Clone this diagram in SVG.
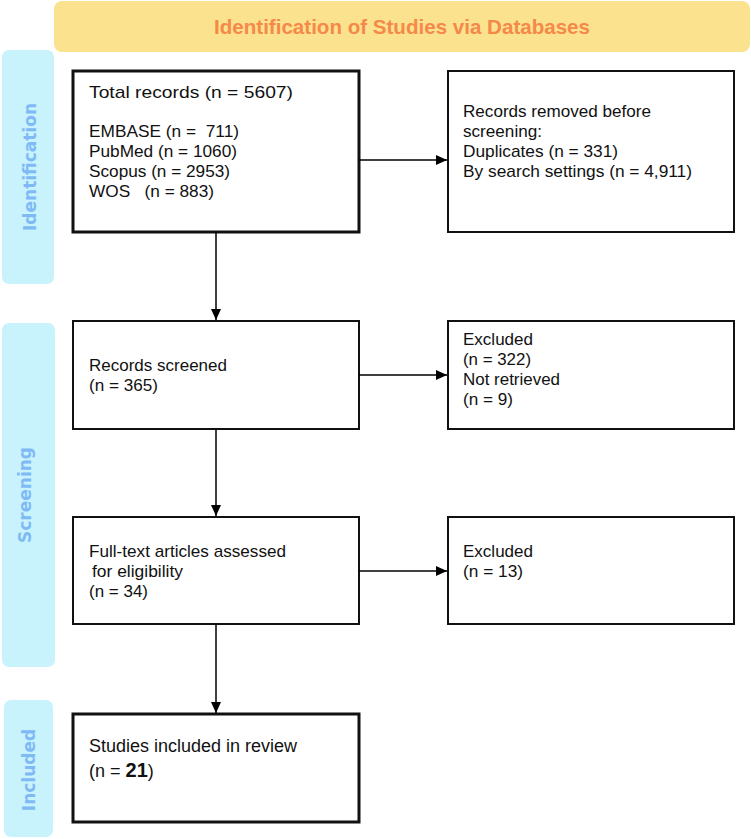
<svg xmlns="http://www.w3.org/2000/svg" width="751" height="839" viewBox="0 0 751 839">
<defs>
<marker id="ah" markerWidth="12" markerHeight="12" refX="11" refY="6" orient="auto" markerUnits="userSpaceOnUse"><path d="M0,1 L11,6 L0,11 z" fill="#000"/></marker>
<style>
.t{font-family:"Liberation Sans",Arial,sans-serif;font-size:17px;fill:#111}
.a{font-family:"Liberation Sans",Arial,sans-serif;font-size:18px;fill:#111}
.bar{fill:#c8f3fd}
.bl{font-family:"DejaVu Sans",sans-serif;font-weight:bold;font-size:17px;fill:#7fbaf5}
.box{fill:#fff;stroke:#111;stroke-width:2}
.thick{stroke-width:3}
.c{stroke:#000;stroke-width:1.5;fill:none;marker-end:url(#ah)}
</style>
</defs>
<g id="header"><rect x="54" y="1" width="696" height="51" rx="8" fill="#fbe28e"/>
<text x="214" y="34" textLength="376" lengthAdjust="spacingAndGlyphs" font-family="Liberation Sans,Arial,sans-serif" font-weight="bold" font-size="21" fill="#f5894a">Identification of Studies via Databases</text></g>
<g id="bar-identification"><rect class="bar" x="2" y="50" width="52" height="234" rx="7"/><text class="bl" transform="translate(36,167) rotate(-90)" text-anchor="middle">Identification</text></g>
<g id="bar-screening"><rect class="bar" x="2" y="323" width="53" height="344" rx="7"/><text class="bl" transform="translate(31,495) rotate(-90)" text-anchor="middle">Screening</text></g>
<g id="bar-included"><rect class="bar" x="4" y="700" width="49" height="137" rx="7"/><text class="bl" transform="translate(35,770) rotate(-90)" text-anchor="middle">Included</text></g>
<g id="total"><rect class="box thick" x="73" y="71" width="286" height="161"/>
<text class="t" x="89" y="98" font-size="19" textLength="204" lengthAdjust="spacingAndGlyphs">Total records (n = 5607)</text>
<text class="t" x="89" y="137" textLength="150" lengthAdjust="spacingAndGlyphs" xml:space="preserve">EMBASE (n =  711)</text>
<text class="t" x="89" y="157" textLength="148" lengthAdjust="spacingAndGlyphs">PubMed (n = 1060)</text>
<text class="t" x="89" y="177" textLength="141" lengthAdjust="spacingAndGlyphs">Scopus (n = 2953)</text>
<text class="t" x="89" y="197" textLength="125" lengthAdjust="spacingAndGlyphs" xml:space="preserve">WOS   (n = 883)</text></g>
<g id="removed"><rect class="box" x="448" y="71" width="286" height="161"/>
<text class="t" x="463" y="117" textLength="188" lengthAdjust="spacingAndGlyphs">Records removed before</text>
<text class="t" x="463" y="137" textLength="79" lengthAdjust="spacingAndGlyphs">screening:</text>
<text class="t" x="463" y="157" textLength="155" lengthAdjust="spacingAndGlyphs">Duplicates (n = 331)</text>
<text class="t" x="463" y="177" textLength="229" lengthAdjust="spacingAndGlyphs">By search settings (n = 4,911)</text></g>
<g id="screened"><rect class="box" x="73" y="321" width="286" height="108"/>
<text class="t" x="89" y="371" textLength="138" lengthAdjust="spacingAndGlyphs">Records screened</text>
<text class="t" x="89" y="391" textLength="69" lengthAdjust="spacingAndGlyphs">(n = 365)</text></g>
<g id="excluded1"><rect class="box" x="448" y="321" width="286" height="108"/>
<text class="t" x="463" y="345" textLength="70" lengthAdjust="spacingAndGlyphs">Excluded</text>
<text class="t" x="463" y="365" textLength="68" lengthAdjust="spacingAndGlyphs">(n = 322)</text>
<text class="t" x="463" y="385" textLength="97" lengthAdjust="spacingAndGlyphs">Not retrieved</text>
<text class="t" x="463" y="405" textLength="50" lengthAdjust="spacingAndGlyphs">(n = 9)</text></g>
<g id="fulltext"><rect class="box" x="73" y="517" width="286" height="107"/>
<text class="t" x="89" y="557" textLength="197" lengthAdjust="spacingAndGlyphs">Full-text articles assessed</text>
<text class="t" x="92" y="577" textLength="91" lengthAdjust="spacingAndGlyphs">for eligibility</text>
<text class="t" x="89" y="597" textLength="59" lengthAdjust="spacingAndGlyphs">(n = 34)</text></g>
<g id="excluded2"><rect class="box" x="448" y="517" width="286" height="107"/>
<text class="t" x="463" y="557" textLength="70" lengthAdjust="spacingAndGlyphs">Excluded</text>
<text class="t" x="463" y="577" textLength="60" lengthAdjust="spacingAndGlyphs">(n = 13)</text></g>
<g id="included"><rect class="box thick" x="73" y="714" width="286" height="108"/>
<text class="a" x="89" y="752">Studies included in review</text>
<text class="a" x="89" y="777">(n = <tspan font-weight="bold" font-size="20">21</tspan>)</text></g>
<g id="connectors">
<line class="c" x1="359" y1="160" x2="447" y2="160"/>
<line class="c" x1="216" y1="232" x2="216" y2="320"/>
<line class="c" x1="359" y1="375" x2="447" y2="375"/>
<line class="c" x1="216" y1="429" x2="216" y2="516"/>
<line class="c" x1="359" y1="571" x2="447" y2="571"/>
<line class="c" x1="216" y1="624" x2="216" y2="713"/>
</g>
</svg>
